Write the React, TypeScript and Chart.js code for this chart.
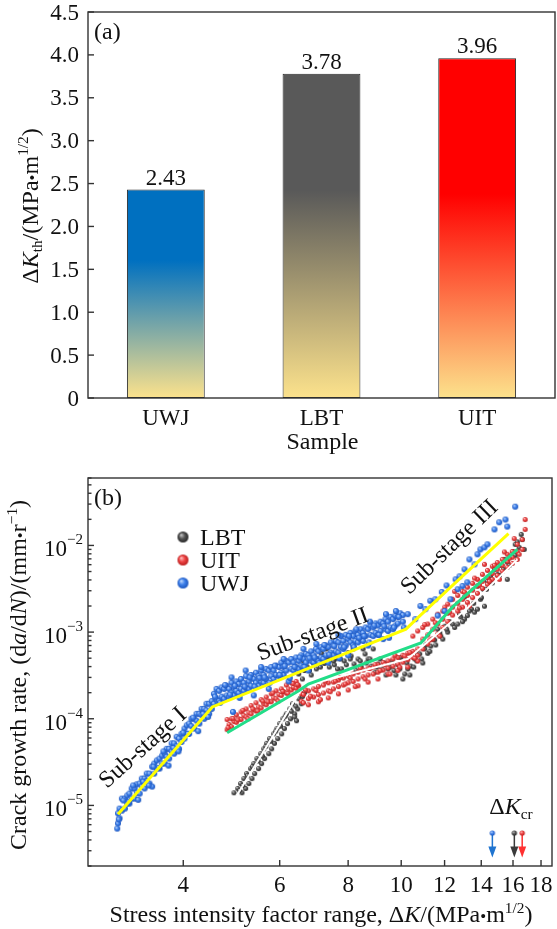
import React, { useEffect, useRef } from "react";
import { Chart, registerables } from "chart.js";

Chart.register(...registerables);

const FONT = "'Liberation Serif', 'Times New Roman', Times, serif";
const TICK_SIZE = 23;
const TITLE_SIZE = 24;
const AXIS_COLOR = "#333333";
const TEXT_COLOR = "#111111";

// ---------------- Panel (a) data ----------------
const SAMPLES = ["UWJ", "LBT", "UIT"];
const DK_TH = [2.43, 3.78, 3.96];
const DK_TH_LABELS = ["2.43", "3.78", "3.96"];
const BAR_TOP_COLORS = ["#0070C0", "#595959", "#FF0000"];
const BAR_SOLID_STOP = [0.34, 0.36, 0.4];
const BAR_BASE_COLOR = "#FCE28C";
const A_Y_TICKS = [0, 0.5, 1, 1.5, 2, 2.5, 3, 3.5, 4, 4.5];
const A_Y_TICK_LABELS = ["0", "0.5", "1.0", "1.5", "2.0", "2.5", "3.0", "3.5", "4.0", "4.5"];

// ---------------- Panel (b) data ----------------
const B_X_TICKS = [4, 6, 8, 10, 12, 14, 16, 18];
const B_X_TICK_LABELS = ["4", "6", "8", "10", "12", "14", "16", "18"];
const B_Y_DECADES = [1e-6, 1e-5, 1e-4, 1e-3, 1e-2];
const B_Y_LABELED = [1e-5, 1e-4, 1e-3, 1e-2];
const B_Y_LABEL_EXP = ["\u22125", "\u22124", "\u22123", "\u22122"];
const B_X_MIN = 2.68;
const B_X_MAX = 18.85;
const B_Y_MIN = 2e-6;
const B_Y_MAX = 0.06;

const UWJ_POINTS: [number, number][] = [
  [3.04, 6.2e-6], [3.04, 8.1e-6], [3.03, 5.4e-6], [3.06, 9.2e-6], [3.06, 7.1e-6],
  [3.09, 1.2e-5], [3.09, 8.7e-6], [3.13, 1.2e-5], [3.13, 9.2e-6], [3.16, 1.3e-5], [3.16, 1.05e-5],
  [3.19, 1.37e-5], [3.19, 1.05e-5], [3.22, 1.57e-5], [3.22, 1.2e-5], [3.26, 1.57e-5], [3.26, 1.2e-5],
  [3.29, 1.75e-5], [3.29, 1.4e-5], [3.33, 1.79e-5], [3.33, 1.37e-5], [3.36, 2.04e-5], [3.36, 1.65e-5],
  [3.4, 2.04e-5], [3.4, 1.57e-5], [3.43, 2.33e-5], [3.43, 1.9e-5], [3.47, 2.33e-5], [3.47, 1.79e-5],
  [3.51, 2.8e-5], [3.51, 1.65e-5], [3.54, 3.04e-5], [3.54, 2.33e-5], [3.58, 3.3e-5], [3.58, 2.66e-5],
  [3.62, 3.47e-5], [3.62, 2.66e-5], [3.66, 3.75e-5], [3.66, 3.04e-5], [3.7, 3.96e-5], [3.7, 3.04e-5],
  [3.73, 4.5e-5], [3.73, 3.65e-5], [3.77, 4.5e-5], [3.77, 3.47e-5], [3.81, 5.2e-5], [3.81, 4.2e-5],
  [3.85, 5.2e-5], [3.85, 3.96e-5], [3.89, 6.2e-5], [3.89, 4.8e-5], [3.93, 5.9e-5], [3.93, 4.5e-5],
  [3.97, 6.7e-5], [3.97, 5.4e-5], [4.02, 7.7e-5], [4.02, 5.9e-5], [4.06, 8.4e-5], [4.06, 6.7e-5],
  [4.1, 8.8e-5], [4.1, 6.7e-5], [4.14, 1.0e-4], [4.14, 8.2e-5], [4.19, 1.0e-4], [4.19, 7.7e-5],
  [4.23, 1.14e-4], [4.23, 9.5e-5], [4.28, 1.14e-4], [4.28, 8.8e-5], [4.32, 1.3e-4], [4.32, 1.1e-4],
  [4.37, 1.3e-4], [4.37, 1.0e-4], [4.41, 1.49e-4], [4.41, 1.25e-4], [4.46, 1.49e-4], [4.46, 1.14e-4],
  [4.51, 1.6e-4], [4.51, 1.3e-4],
  [3.05, 6.9e-6], [3.11, 1.14e-5], [3.18, 1.09e-5], [3.24, 1.7e-5], [3.31, 1.16e-5], [3.38, 1.88e-5],
  [3.46, 1.7e-5], [3.53, 2.8e-5], [3.61, 2.72e-5], [3.68, 4.2e-5], [3.76, 2.88e-5], [3.84, 4.6e-5],
  [3.92, 4.2e-5], [4.0, 6.9e-5], [4.08, 6.7e-5], [4.17, 1.03e-4], [4.26, 7.2e-5], [4.35, 1.14e-4], [4.44, 1.05e-4],
  [4.55, 1.94e-4], [4.55, 1.49e-4], [4.6, 1.7e-4], [4.6, 2.21e-4], [4.65, 2.1e-4], [4.65, 1.6e-4],
  [4.7, 2.3e-4], [4.7, 1.8e-4], [4.75, 2.21e-4], [4.75, 1.7e-4], [4.8, 2.4e-4], [4.8, 1.86e-4],
  [4.85, 2.21e-4], [4.85, 1.8e-4], [4.93, 1.2e-4], [4.9, 2.6e-4], [4.9, 2.0e-4], [4.95, 2.3e-4], [4.95, 1.86e-4],
  [5.0, 2.7e-4], [5.0, 2.1e-4], [5.05, 2.52e-4], [5.05, 1.98e-4], [5.1, 2.88e-4], [5.1, 2.21e-4],
  [5.16, 2.6e-4], [5.16, 2.1e-4], [5.21, 3.1e-4], [5.21, 2.3e-4], [5.27, 2.7e-4], [5.27, 2.21e-4],
  [5.32, 3.2e-4], [5.32, 2.4e-4], [5.38, 2.88e-4], [5.38, 1.86e-4], [5.43, 3.4e-4], [5.43, 2.6e-4],
  [5.49, 3.1e-4], [5.49, 2.4e-4], [5.55, 3.6e-4], [5.55, 2.7e-4], [5.61, 3.2e-4], [5.61, 2.6e-4],
  [5.67, 3.76e-4], [5.67, 2.88e-4], [5.73, 3.6e-4], [5.73, 2.21e-4], [5.79, 3.95e-4], [5.79, 3.1e-4],
  [5.85, 3.6e-4], [5.85, 2.88e-4], [5.91, 4.1e-4], [5.91, 3.2e-4], [5.98, 3.95e-4], [5.98, 3.1e-4],
  [6.04, 4.45e-4], [6.04, 3.4e-4], [6.1, 3.95e-4], [6.1, 3.2e-4], [6.17, 4.65e-4], [6.17, 3.6e-4],
  [6.23, 4.45e-4], [6.23, 2.7e-4], [6.3, 4.9e-4], [6.3, 3.76e-4], [6.36, 4.45e-4], [6.36, 3.6e-4],
  [6.43, 5.1e-4], [6.43, 3.95e-4], [6.5, 4.65e-4], [6.5, 3.76e-4], [6.57, 5.4e-4], [6.57, 4.1e-4],
  [6.63, 4.9e-4], [6.63, 3.95e-4], [6.7, 5.6e-4], [6.7, 4.45e-4], [6.77, 5.4e-4], [6.77, 3.6e-4],
  [6.85, 6.0e-4], [6.85, 4.65e-4], [6.92, 5.4e-4], [6.92, 4.45e-4], [6.99, 6.4e-4], [6.99, 4.9e-4],
  [7.06, 6.0e-4], [7.06, 4.65e-4], [7.14, 6.7e-4], [7.14, 5.1e-4], [7.21, 6.4e-4], [7.21, 4.9e-4],
  [7.29, 7.0e-4], [7.29, 5.4e-4], [7.36, 6.7e-4], [7.36, 4.45e-4], [7.44, 7.6e-4], [7.44, 5.8e-4],
  [7.52, 7.0e-4], [7.52, 5.4e-4], [7.6, 7.9e-4], [7.6, 6.0e-4], [7.68, 7.6e-4], [7.68, 5.8e-4],
  [7.76, 9.0e-4], [7.76, 6.7e-4], [7.84, 7.9e-4], [7.84, 6.4e-4], [7.92, 9.3e-4], [7.92, 7.0e-4],
  [8.0, 8.3e-4], [8.0, 5.4e-4], [8.08, 9.8e-4], [8.08, 7.6e-4], [8.17, 9.0e-4], [8.17, 7.0e-4],
  [8.25, 1.03e-3], [8.25, 7.9e-4], [8.34, 9.3e-4], [8.34, 7.6e-4], [8.43, 1.08e-3], [8.43, 8.3e-4],
  [8.52, 9.8e-4], [8.52, 7.9e-4], [8.61, 1.13e-3], [8.61, 9.0e-4], [8.7, 1.08e-3], [8.7, 7.0e-4],
  [8.79, 1.19e-3], [8.79, 9.3e-4], [8.89, 1.13e-3], [8.89, 9.0e-4], [8.98, 1.26e-3], [8.98, 9.8e-4],
  [9.07, 1.19e-3], [9.07, 9.3e-4], [9.17, 1.32e-3], [9.17, 1.03e-3], [9.27, 1.26e-3], [9.27, 8.3e-4],
  [9.36, 1.41e-3], [9.36, 1.08e-3], [9.46, 1.32e-3], [9.46, 1.03e-3], [9.56, 1.5e-3], [9.56, 1.13e-3],
  [9.66, 1.41e-3], [9.66, 1.08e-3], [9.76, 1.55e-3], [9.76, 1.19e-3], [9.86, 1.5e-3], [9.86, 1.26e-3],
  [9.96, 1.65e-3], [10.07, 1.57e-3], [10.07, 1.32e-3],
  [4.57, 1.8e-4], [4.67, 1.53e-4], [4.77, 2.45e-4], [4.87, 1.9e-4], [4.97, 2.4e-4], [5.07, 1.74e-4],
  [5.18, 2.35e-4], [5.29, 3.0e-4], [5.4, 2.35e-4], [5.51, 2.95e-4], [5.63, 3.0e-4], [5.75, 2.6e-4],
  [5.88, 4.1e-4], [6.0, 3.2e-4], [6.13, 4.05e-4], [6.26, 2.95e-4], [6.39, 3.95e-4], [6.53, 5.1e-4],
  [6.66, 3.95e-4], [6.8, 5.0e-4], [6.95, 5.1e-4], [7.09, 4.4e-4], [7.24, 7.1e-4], [7.39, 5.5e-4],
  [7.55, 6.9e-4], [7.71, 5.0e-4], [7.87, 6.7e-4], [8.03, 9.0e-4], [8.2, 6.7e-4], [8.38, 8.6e-4],
  [8.56, 9.0e-4], [8.74, 7.6e-4], [8.93, 1.19e-3], [9.11, 9.3e-4], [9.31, 1.17e-3], [9.5, 8.6e-4],
  [9.7, 1.13e-3], [9.9, 1.5e-3], [10.11, 1.13e-3],
  [4.9, 3.0e-4], [5.2, 3.6e-4], [5.55, 3.95e-4], [6.1, 4.9e-4], [6.63, 6.4e-4], [7.0, 7.3e-4],
  [7.68, 9.3e-4], [8.28, 1.08e-3], [8.77, 1.32e-3], [9.38, 1.61e-3], [9.78, 1.75e-3],
  [10.28, 1.61e-3], [10.61, 1.41e-3], [10.84, 2.0e-3], [11.07, 1.84e-3], [11.3, 2.3e-3],
  [11.54, 2.39e-3], [11.66, 1.55e-3], [11.86, 2.9e-3], [12.0, 1.75e-3], [12.1, 3.45e-3],
  [12.3, 2.39e-3], [12.57, 4.06e-3], [12.68, 3.12e-3], [12.78, 4.4e-3], [12.94, 3.4e-3],
  [13.05, 5.3e-3], [13.2, 3.75e-3], [13.32, 6.9e-3], [13.61, 6.05e-3], [13.78, 7.9e-3],
  [13.95, 9.0e-3], [14.19, 9.5e-3], [14.37, 1.03e-2], [14.8, 1.53e-2], [15.1, 1.85e-2],
  [15.5, 1.99e-2], [15.62, 1.65e-2], [16.15, 2.8e-2],
];

const UIT_POINTS: [number, number][] = [
  [4.81, 9.8e-5], [4.81, 7.5e-5], [4.85, 8.6e-5], [4.9, 1.0e-4], [4.9, 8.1e-5], [4.95, 9.3e-5],
  [5.0, 1.11e-4], [5.0, 9.1e-5], [5.05, 1.0e-4], [5.1, 1.2e-4], [5.1, 9.8e-5], [5.16, 1.09e-4],
  [5.21, 1.3e-4], [5.21, 1.05e-4], [5.27, 1.17e-4], [5.32, 1.42e-4], [5.32, 1.14e-4], [5.38, 1.27e-4],
  [5.43, 1.53e-4], [5.43, 1.23e-4], [5.49, 1.37e-4], [5.55, 1.66e-4], [5.55, 1.33e-4], [5.61, 1.49e-4],
  [5.67, 1.78e-4], [5.67, 1.45e-4], [5.73, 1.6e-4], [5.79, 1.94e-4], [5.79, 1.57e-4], [5.85, 1.74e-4],
  [5.91, 2.1e-4], [5.91, 1.7e-4], [5.98, 1.9e-4], [6.04, 2.21e-4], [6.04, 1.86e-4], [6.1, 2.05e-4],
  [6.17, 2.45e-4], [6.17, 1.98e-4], [6.23, 2.21e-4], [6.3, 2.6e-4], [6.3, 2.15e-4], [6.36, 2.3e-4],
  [6.43, 2.7e-4], [6.43, 2.25e-4], [6.5, 2.4e-4],
  [4.83, 7.9e-5], [4.93, 1.01e-4], [5.03, 9.7e-5], [5.14, 1.25e-4], [5.25, 1.0e-4], [5.36, 1.3e-4],
  [5.47, 1.23e-4], [5.59, 1.6e-4], [5.71, 1.57e-4], [5.83, 1.98e-4], [5.96, 1.6e-4], [6.08, 2.07e-4],
  [6.21, 1.96e-4], [6.34, 2.55e-4], [6.47, 2.48e-4],
  [6.57, 1.94e-4], [6.57, 1.6e-4], [6.63, 1.9e-4], [6.63, 1.53e-4],
  [6.77, 2.1e-4], [6.77, 1.7e-4], [6.77, 1.45e-4], [6.92, 2.21e-4], [6.92, 1.78e-4],
  [7.06, 2.35e-4], [7.06, 1.9e-4], [7.06, 1.57e-4], [7.21, 2.45e-4], [7.21, 1.98e-4],
  [7.36, 2.6e-4], [7.36, 2.1e-4], [7.36, 1.74e-4], [7.52, 2.65e-4], [7.52, 2.21e-4],
  [7.68, 2.8e-4], [7.68, 2.35e-4], [7.68, 1.94e-4], [7.84, 2.95e-4], [7.84, 2.45e-4],
  [8.0, 3.1e-4], [8.0, 2.6e-4], [8.0, 2.15e-4], [8.17, 3.29e-4], [8.17, 2.7e-4],
  [8.34, 3.45e-4], [8.34, 2.88e-4], [8.34, 2.4e-4], [8.52, 3.65e-4], [8.52, 3.05e-4],
  [8.7, 3.85e-4], [8.7, 3.2e-4], [8.7, 2.65e-4], [8.89, 3.95e-4], [8.89, 3.29e-4],
  [9.07, 4.2e-4], [9.07, 3.45e-4], [9.07, 2.88e-4], [9.27, 4.45e-4], [9.27, 3.65e-4],
  [9.46, 4.65e-4], [9.46, 3.85e-4], [9.46, 3.29e-4], [9.66, 4.9e-4], [9.66, 4.05e-4],
  [9.86, 5.1e-4], [9.86, 4.29e-4], [9.86, 3.6e-4], [10.07, 5.4e-4], [10.07, 4.5e-4],
  [10.28, 5.7e-4], [10.28, 4.8e-4], [10.28, 3.95e-4], [10.5, 6.0e-4], [10.5, 5.1e-4], [10.5, 9.0e-4],
  [10.72, 6.4e-4], [10.72, 5.4e-4], [10.72, 4.65e-4], [10.72, 1.03e-3],
  [6.69, 2.15e-4], [6.83, 1.82e-4], [6.99, 2.12e-4], [7.12, 1.66e-4], [7.27, 2.72e-4], [7.42, 2.05e-4],
  [7.58, 2.72e-4], [7.74, 3.0e-4], [7.9, 2.52e-4], [8.07, 2.95e-4], [8.24, 2.35e-4], [8.42, 3.85e-4],
  [8.59, 2.88e-4], [8.77, 3.8e-4], [8.96, 4.2e-4], [9.15, 3.6e-4], [9.34, 4.2e-4], [9.54, 3.29e-4],
  [9.74, 5.4e-4], [9.94, 3.95e-4], [10.15, 5.3e-4], [10.37, 5.8e-4], [10.59, 5.0e-4],
  [10.95, 1.13e-3], [10.95, 8.3e-4], [10.95, 6.4e-4], [11.18, 1.24e-3], [11.18, 9.3e-4], [11.18, 7.3e-4],
  [11.42, 1.41e-3], [11.42, 1.08e-3], [11.42, 8.3e-4], [11.66, 1.61e-3], [11.66, 1.24e-3], [11.66, 9.5e-4],
  [11.91, 1.75e-3], [11.91, 1.41e-3], [11.91, 1.13e-3], [12.16, 2.1e-3], [12.16, 1.65e-3], [12.16, 1.32e-3],
  [12.41, 2.39e-3], [12.41, 1.94e-3], [12.41, 1.57e-3], [12.68, 2.65e-3], [12.68, 2.15e-3], [12.68, 1.75e-3],
  [12.94, 2.95e-3], [12.94, 2.39e-3], [12.94, 1.94e-3], [13.21, 3.3e-3], [13.21, 2.65e-3], [13.21, 2.2e-3],
  [13.5, 3.65e-3], [13.5, 3.05e-3], [13.5, 2.5e-3], [13.78, 4.06e-3], [13.78, 3.4e-3], [13.78, 2.8e-3],
  [14.07, 4.64e-3], [14.07, 3.85e-3], [14.07, 3.2e-3], [14.37, 5.15e-3], [14.37, 4.3e-3], [14.37, 3.56e-3],
  [14.67, 5.75e-3], [14.67, 4.75e-3], [14.67, 4.06e-3], [14.98, 6.35e-3], [14.98, 5.3e-3], [14.98, 4.5e-3],
  [15.3, 6.9e-3], [15.3, 5.9e-3], [15.3, 5.05e-3], [15.62, 7.9e-3], [15.62, 6.55e-3], [15.62, 5.6e-3],
  [15.95, 8.5e-3], [15.95, 7.3e-3], [15.95, 6.2e-3], [16.29, 1.03e-2], [16.29, 8.5e-3], [16.29, 6.9e-3],
  [16.63, 1.17e-2], [16.63, 9.0e-3], [16.84, 1.99e-2], [16.84, 1.53e-2],
  [11.04, 1.22e-3], [11.28, 8.1e-4], [11.54, 1.28e-3], [11.76, 9.0e-4], [12.01, 1.94e-3], [12.26, 1.7e-3],
  [12.52, 2.95e-3], [12.78, 1.9e-3], [13.05, 2.9e-3], [13.32, 2.0e-3], [13.61, 4.2e-3], [13.9, 3.5e-3],
  [14.19, 6.05e-3], [14.49, 3.85e-3], [14.8, 5.9e-3], [15.11, 4.06e-3], [15.43, 8.4e-3], [15.75, 7.1e-3],
  [16.08, 1.2e-2], [16.42, 7.9e-3],
];

const LBT_POINTS: [number, number][] = [
  [4.95, 1.4e-5], [5.12, 1.4e-5], [5.03, 1.57e-5], [5.2, 1.57e-5], [5.09, 1.79e-5], [5.27, 1.79e-5],
  [5.16, 2.04e-5], [5.34, 2.04e-5], [5.22, 2.33e-5], [5.4, 2.33e-5], [5.31, 2.66e-5], [5.49, 2.66e-5],
  [5.38, 3.04e-5], [5.56, 3.04e-5], [5.45, 3.47e-5], [5.63, 3.47e-5], [5.54, 3.96e-5], [5.73, 3.96e-5],
  [5.61, 4.5e-5], [5.8, 4.5e-5], [5.68, 5.2e-5], [5.87, 5.2e-5], [5.75, 5.9e-5], [5.95, 5.9e-5],
  [5.85, 6.7e-5], [6.05, 6.7e-5], [5.93, 7.7e-5], [6.12, 7.7e-5], [6.0, 8.8e-5], [6.2, 8.8e-5],
  [6.08, 1.0e-4], [6.28, 1.0e-4], [6.17, 1.14e-4], [6.39, 1.14e-4], [6.26, 1.3e-4], [6.47, 1.3e-4],
  [6.33, 1.49e-4], [6.57, 1.49e-4], [6.39, 1.05e-4], [6.44, 9.5e-5], [6.6, 1.8e-4], [6.66, 2.0e-4], [6.5, 1.7e-4],
  [5.07, 1.48e-5], [5.14, 1.7e-5], [5.24, 2.2e-5], [5.35, 2.8e-5], [5.48, 3.25e-5], [5.58, 3.7e-5],
  [5.66, 4.8e-5], [5.78, 5.5e-5], [5.9, 7.2e-5], [6.02, 8.2e-5], [6.14, 1.07e-4], [6.3, 1.22e-4], [6.42, 1.4e-4],
  [6.5, 3.29e-4], [6.6, 2.88e-4], [6.66, 3.6e-4], [6.74, 3.95e-4], [6.85, 3.2e-4], [6.92, 4.35e-4],
  [7.0, 3.76e-4], [7.06, 4.9e-4], [7.15, 5.7e-4], [7.24, 4.35e-4], [7.33, 5.1e-4], [7.45, 5.1e-4],
  [7.55, 4.2e-4], [7.58, 4.9e-4], [7.68, 5.6e-4], [7.78, 3.76e-4], [7.87, 4.65e-4], [8.0, 5.8e-4],
  [8.1, 5.3e-4], [8.2, 4.29e-4], [8.34, 4.9e-4], [8.45, 3.95e-4], [8.59, 5.6e-4], [8.7, 4.9e-4],
  [8.81, 4.05e-4], [8.96, 3.45e-4], [9.07, 4.29e-4], [9.22, 3.76e-4], [9.38, 3.2e-4], [9.54, 3.95e-4],
  [9.7, 3.6e-4], [9.86, 4.2e-4], [9.98, 5.1e-4], [10.15, 3.29e-4], [10.28, 3.76e-4], [10.41, 4.05e-4],
  [10.59, 4.9e-4], [10.72, 5.6e-4], [10.9, 4.9e-4], [11.04, 6.4e-4], [11.18, 5.7e-4], [11.32, 6.9e-4],
  [11.51, 8.1e-4], [11.66, 1.08e-3], [11.81, 9.0e-4], [12.01, 1.17e-3], [12.16, 1.0e-3], [12.41, 1.24e-3],
  [12.68, 1.24e-3], [12.84, 1.5e-3], [13.05, 1.41e-3], [13.21, 1.55e-3], [13.44, 1.84e-3], [13.61, 1.7e-3],
  [13.78, 1.84e-3], [13.95, 2.39e-3], [14.19, 1.99e-3], [13.05, 2.55e-3], [13.78, 3.4e-3], [14.13, 3.12e-3],
  [14.37, 3.85e-3], [14.55, 4.4e-3], [14.8, 5.3e-3], [14.98, 4.64e-3], [15.17, 5.9e-3], [15.43, 6.9e-3],
  [15.62, 6.4e-3], [15.62, 4.06e-3], [15.81, 7.5e-3], [16.01, 8.5e-3], [16.15, 1.03e-2], [16.29, 1.1e-2],
  [16.42, 9.5e-3], [16.63, 1.17e-2], [16.77, 9.0e-3], [16.56, 1.34e-2],
  [6.57, 3.95e-4], [6.63, 4.65e-4], [6.8, 3.6e-4], [6.9, 5.1e-4], [6.99, 4.4e-4], [7.12, 3.95e-4],
  [7.18, 4.9e-4], [7.3, 6.4e-4], [7.39, 3.95e-4], [7.52, 4.65e-4], [7.65, 3.76e-4], [7.74, 4.9e-4],
  [7.84, 6.7e-4], [7.94, 4.2e-4], [8.07, 4.9e-4], [8.17, 6.4e-4], [8.27, 3.6e-4], [8.42, 4.65e-4],
  [8.52, 6.4e-4], [8.63, 4.4e-4], [8.77, 4.9e-4], [8.89, 6.4e-4], [9.03, 3.95e-4], [9.15, 4.9e-4],
  [9.31, 4.4e-4], [9.46, 3.76e-4], [9.62, 4.65e-4], [9.78, 3.2e-4], [9.94, 3.76e-4], [10.07, 2.88e-4],
  [10.24, 4.4e-4], [10.37, 3.2e-4], [10.54, 3.95e-4], [10.68, 4.65e-4], [10.81, 5.6e-4], [10.95, 4.4e-4],
  [11.09, 7.1e-4], [11.28, 6.0e-4], [11.42, 8.3e-4], [11.56, 7.1e-4], [11.76, 9.8e-4], [11.91, 8.3e-4],
  [12.11, 1.08e-3], [12.26, 1.32e-3], [12.52, 1.13e-3], [12.78, 1.61e-3], [12.94, 1.32e-3], [13.32, 1.75e-3],
  [13.56, 2.15e-3], [14.01, 2.5e-3], [14.31, 3.12e-3], [14.67, 3.7e-3], [15.11, 4.5e-3], [15.37, 5.3e-3],
  [15.75, 5.9e-3], [16.15, 7.7e-3],
];

const UWJ_FIT: [number, number][] = [[3.04, 7.9e-6], [4.52, 1.37e-4], [10.2, 1.08e-3], [10.8, 1.53e-3], [12.75, 4.06e-3], [15.7, 1.37e-2]];
const UIT_FIT: [number, number][] = [[4.81, 6.9e-5], [6.5, 2.1e-4], [6.77, 2.52e-4], [10.86, 7.5e-4], [12.4, 1.94e-3], [16.3, 9.0e-3]];
const LBT_FIT: [number, number][] = [[5.01, 1.3e-5], [6.63, 2.39e-4], [10.28, 4.9e-4], [13.2, 1.89e-3], [16.3, 6.9e-3]];

const DKCR_SAMPLES = ["UWJ", "LBT", "UIT"];
const DKCR_VALUES = [14.67, 16.09, 16.63];
const DKCR_ARROW_TOP = 4.8e-6;
const DKCR_ARROW_TIP = 2.5e-6;

const LEGEND_NAMES = ["LBT", "UIT", "UWJ"];

const STAGE_LABELS = ["Sub-stage I", "Sub-stage II", "Sub-stage III"];
const STAGE_ANCHOR_X = [3.38, 6.9, 12.26];
const STAGE_ANCHOR_Y = [4.6e-5, 9.3e-4, 9.5e-3];
const STAGE_ANGLE_DEG = [-42, -20, -44];

// ---------------- styling ----------------
const SPHERE = {
  UWJ: { light: "#c4dcff", base: "#3d80ea", dark: "#1c55bd", arrow: "#1f74d0" },
  UIT: { light: "#ffc4c4", base: "#ef4545", dark: "#b81d1d", arrow: "#ff3030" },
  LBT: { light: "#c8c8c8", base: "#555555", dark: "#262626", arrow: "#3a3a3a" },
} as Record<string, { light: string; base: string; dark: string; arrow: string }>;

type Seg = { t: string; it?: boolean; sup?: boolean; sub?: boolean; k?: number };

const A_Y_TITLE: Seg[] = [
  { t: "\u0394" }, { t: "K", it: true }, { t: "th", sub: true }, { t: "/(MPa" }, { t: "\u2022", k: 0.7 },
  { t: "m" }, { t: "1/2", sup: true }, { t: ")" },
];
const B_Y_TITLE: Seg[] = [
  { t: "Crack growth rate, (d" }, { t: "a", it: true }, { t: "/d" }, { t: "N", it: true }, { t: ")/(mm" },
  { t: "\u2022", k: 0.7 }, { t: "r" }, { t: "\u22121", sup: true }, { t: ")" },
];
const B_X_TITLE: Seg[] = [
  { t: "Stress intensity factor range, \u0394" }, { t: "K", it: true }, { t: "/(MPa" }, { t: "\u2022", k: 0.7 },
  { t: "m" }, { t: "1/2", sup: true }, { t: ")" },
];
const DKCR_TEXT: Seg[] = [{ t: "\u0394" }, { t: "K", it: true }, { t: "cr", sub: true }];

function drawRich(ctx: CanvasRenderingContext2D, segs: Seg[], x: number, y: number, size: number, align: "left" | "center" | "right") {
  const parts = segs.map((s) => {
    const sz = s.sup || s.sub ? size * 0.64 : size * (s.k ?? 1);
    const font = `${s.it ? "italic " : ""}${sz}px ${FONT}`;
    ctx.font = font;
    return { s, font, w: ctx.measureText(s.t).width };
  });
  const total = parts.reduce((a, p) => a + p.w, 0);
  let cx = align === "center" ? x - total / 2 : align === "right" ? x - total : x;
  ctx.textAlign = "left";
  ctx.textBaseline = "alphabetic";
  for (const p of parts) {
    ctx.font = p.font;
    const dy = p.s.sup ? -size * 0.38 : p.s.sub ? size * 0.2 : 0;
    ctx.fillText(p.s.t, cx, y + dy);
    cx += p.w;
  }
  return total;
}

function makeSphere(r: number, light: string, base: string, dark: string) {
  const size = Math.ceil(r * 2) + 2;
  const c = document.createElement("canvas");
  c.width = size;
  c.height = size;
  const g = c.getContext("2d")!;
  const cx = size / 2, cy = size / 2;
  const grad = g.createRadialGradient(cx - r * 0.35, cy - r * 0.4, r * 0.05, cx, cy, r);
  grad.addColorStop(0, light);
  grad.addColorStop(0.5, base);
  grad.addColorStop(1, dark);
  g.fillStyle = grad;
  g.beginPath();
  g.arc(cx, cy, r, 0, Math.PI * 2);
  g.fill();
  return c;
}

const toXY = (pts: [number, number][]) => pts.map(([x, y]) => ({ x, y }));

const panelAPlugin = {
  id: "panelA",
  afterDraw(chart: any) {
    const ctx: CanvasRenderingContext2D = chart.ctx;
    const { left, right, top, bottom } = chart.chartArea;
    const xs = chart.scales.x, ys = chart.scales.y;
    ctx.save();
    ctx.strokeStyle = AXIS_COLOR;
    ctx.lineWidth = 1.4;
    ctx.strokeRect(left, top, right - left, bottom - top);
    ctx.fillStyle = TEXT_COLOR;
    ctx.font = `${TICK_SIZE}px ${FONT}`;
    ctx.textAlign = "right";
    ctx.textBaseline = "alphabetic";
    A_Y_TICKS.forEach((v, i) => {
      const py = ys.getPixelForValue(v);
      ctx.beginPath();
      ctx.moveTo(left, py);
      ctx.lineTo(left + 6, py);
      ctx.stroke();
      ctx.fillText(A_Y_TICK_LABELS[i], left - 9, py + 7.5);
    });
    ctx.textAlign = "center";
    SAMPLES.forEach((s, i) => {
      const px = xs.getPixelForValue(i);
      ctx.fillText(s, px, bottom + 27);
      ctx.fillText(DK_TH_LABELS[i], px, ys.getPixelForValue(DK_TH[i]) - 5);
    });
    ctx.font = `${TITLE_SIZE}px ${FONT}`;
    ctx.fillText("Sample", (left + right) / 2 + 1, bottom + 51);
    ctx.textAlign = "left";
    ctx.fillText("(a)", left + 6, top + 27);
    ctx.save();
    ctx.translate(37.5, (top + bottom) / 2 + 1);
    ctx.rotate(-Math.PI / 2);
    drawRich(ctx, A_Y_TITLE, 0, 0, TITLE_SIZE, "center");
    ctx.restore();
    ctx.restore();
  },
};

function makePanelBPlugin(sprites: Record<string, HTMLCanvasElement>) {
  return {
    id: "panelB",
    afterDraw(chart: any) {
      const ctx: CanvasRenderingContext2D = chart.ctx;
      const { left, right, top, bottom } = chart.chartArea;
      const xs = chart.scales.x, ys = chart.scales.y;
      ctx.save();
      ctx.strokeStyle = AXIS_COLOR;
      ctx.lineWidth = 1.4;
      ctx.strokeRect(left, top, right - left, bottom - top);
      ctx.fillStyle = TEXT_COLOR;
      ctx.font = `${TICK_SIZE}px ${FONT}`;
      ctx.textAlign = "center";
      ctx.textBaseline = "alphabetic";
      B_X_TICKS.forEach((v, i) => {
        const px = xs.getPixelForValue(v);
        ctx.beginPath();
        ctx.moveTo(px, bottom);
        ctx.lineTo(px, bottom - 6);
        ctx.stroke();
        ctx.fillText(B_X_TICK_LABELS[i], px, bottom + 26);
      });
      B_Y_DECADES.forEach((d) => {
        for (let m = 1; m <= 9; m++) {
          const v = d * m;
          if (v < B_Y_MIN * 0.999 || v > B_Y_MAX * 1.001) continue;
          const py = ys.getPixelForValue(v);
          ctx.beginPath();
          ctx.moveTo(left, py);
          ctx.lineTo(left + (m === 1 ? 6 : 3.5), py);
          ctx.stroke();
        }
      });
      B_Y_LABELED.forEach((v, i) => {
        const py = ys.getPixelForValue(v);
        ctx.font = `15px ${FONT}`;
        ctx.textAlign = "left";
        const we = ctx.measureText(B_Y_LABEL_EXP[i]).width;
        const xe = left - 5 - we;
        ctx.fillText(B_Y_LABEL_EXP[i], xe, py - 1);
        ctx.font = `${TICK_SIZE}px ${FONT}`;
        ctx.textAlign = "right";
        ctx.fillText("10", xe, py + 11);
      });
      drawRich(ctx, B_X_TITLE, (left + right) / 2 + 1, bottom + 56, TITLE_SIZE, "center");
      ctx.save();
      ctx.translate(26, (top + bottom) / 2 + 3);
      ctx.rotate(-Math.PI / 2);
      drawRich(ctx, B_Y_TITLE, 0, 0, TITLE_SIZE, "center");
      ctx.restore();
      ctx.font = `${TITLE_SIZE}px ${FONT}`;
      ctx.textAlign = "left";
      ctx.fillText("(b)", left + 6, top + 27);
      LEGEND_NAMES.forEach((name, i) => {
        const cy = top + 59 + i * 23;
        const big = sprites[name + "_big"];
        ctx.drawImage(big, left + 95 - big.width / 2, cy - big.height / 2);
        ctx.fillStyle = TEXT_COLOR;
        ctx.font = `${TITLE_SIZE}px ${FONT}`;
        ctx.textAlign = "left";
        ctx.fillText(name, left + 112, cy + 8);
      });
      STAGE_LABELS.forEach((label, i) => {
        const px = xs.getPixelForValue(STAGE_ANCHOR_X[i]);
        const py = ys.getPixelForValue(STAGE_ANCHOR_Y[i]);
        ctx.save();
        ctx.translate(px, py);
        ctx.rotate((STAGE_ANGLE_DEG[i] * Math.PI) / 180);
        ctx.font = `${TITLE_SIZE}px ${FONT}`;
        ctx.textAlign = "center";
        ctx.textBaseline = "middle";
        ctx.fillStyle = TEXT_COLOR;
        ctx.fillText(label, 0, 0);
        ctx.restore();
      });
      const yTop = ys.getPixelForValue(DKCR_ARROW_TOP);
      const yTip = ys.getPixelForValue(DKCR_ARROW_TIP);
      DKCR_SAMPLES.forEach((name, i) => {
        const px = xs.getPixelForValue(DKCR_VALUES[i]);
        const col = SPHERE[name].arrow;
        ctx.strokeStyle = col;
        ctx.fillStyle = col;
        ctx.lineWidth = 1.5;
        ctx.beginPath();
        ctx.moveTo(px, yTop);
        ctx.lineTo(px, yTip - 9);
        ctx.stroke();
        ctx.beginPath();
        ctx.moveTo(px - 4, yTip - 11);
        ctx.lineTo(px + 4, yTip - 11);
        ctx.lineTo(px, yTip);
        ctx.closePath();
        ctx.fill();
        const dot = sprites[name + "_dot"];
        ctx.drawImage(dot, px - dot.width / 2, yTop - dot.height / 2);
      });
      ctx.fillStyle = TEXT_COLOR;
      const xBlue = xs.getPixelForValue(DKCR_VALUES[0]);
      drawRich(ctx, DKCR_TEXT, xBlue - 3, yTop - 19, TITLE_SIZE, "left");
      ctx.restore();
    },
  };
}

export default function App() {
  const refA = useRef<HTMLCanvasElement>(null);
  const refB = useRef<HTMLCanvasElement>(null);

  useEffect(() => {
    const sprites: Record<string, HTMLCanvasElement> = {};
    for (const name of ["UWJ", "UIT", "LBT"]) {
      const s = SPHERE[name];
      sprites[name] = makeSphere(name === "UWJ" ? 3 : 2.5, s.light, s.base, s.dark);
      sprites[name + "_big"] = makeSphere(5.5, s.light, s.base, s.dark);
      sprites[name + "_dot"] = makeSphere(2.6, s.light, s.base, s.dark);
    }

    const chartA = new Chart(refA.current!, {
      type: "bar",
      data: {
        labels: SAMPLES,
        datasets: [
          {
            data: DK_TH,
            backgroundColor: (c: any) => {
              const i = c.dataIndex ?? 0;
              const chart = c.chart;
              const ys = chart.scales?.y;
              if (!ys) return BAR_TOP_COLORS[i];
              const yTop = ys.getPixelForValue(DK_TH[i]);
              const yBot = ys.getPixelForValue(0);
              if (!isFinite(yTop) || !isFinite(yBot) || yBot <= yTop) return BAR_TOP_COLORS[i];
              const g = chart.ctx.createLinearGradient(0, yTop, 0, yBot);
              g.addColorStop(0, BAR_TOP_COLORS[i]);
              g.addColorStop(BAR_SOLID_STOP[i], BAR_TOP_COLORS[i]);
              g.addColorStop(1, BAR_BASE_COLOR);
              return g;
            },
            borderColor: "#2a2a2a",
            borderWidth: 1,
            borderSkipped: false,
            barPercentage: 0.5,
            categoryPercentage: 1,
          } as any,
        ],
      },
      options: {
        responsive: false,
        animation: false,
        devicePixelRatio: 1,
        layout: { padding: { left: 88, right: 2, top: 12, bottom: 67 } },
        plugins: { legend: { display: false }, tooltip: { enabled: false } },
        scales: {
          x: {
            grid: { display: false },
            border: { display: false },
            ticks: { display: false },
            afterFit: (s: any) => { s.height = 0; },
          },
          y: {
            min: 0,
            max: 4.5,
            grid: { display: false },
            border: { display: false },
            ticks: { display: false },
            afterFit: (s: any) => { s.width = 0; },
          },
        },
      } as any,
      plugins: [panelAPlugin],
    });

    const chartB = new Chart(refB.current!, {
      type: "scatter",
      data: {
        datasets: [
          { label: "UWJ fit", data: toXY(UWJ_FIT), showLine: true, borderColor: "#FFFF00", borderWidth: 3, pointRadius: 0, order: 0 },
          { label: "UIT fit", data: toXY(UIT_FIT), showLine: true, borderColor: "#22DD88", borderWidth: 3, pointRadius: 0, order: 0 },
          { label: "LBT fit", data: toXY(LBT_FIT), showLine: true, borderColor: "#FFFFFF", borderWidth: 2, pointRadius: 0, order: 0 },
          { label: "UWJ", data: toXY(UWJ_POINTS), pointStyle: sprites.UWJ, pointRadius: 3, order: 1 },
          { label: "UIT", data: toXY(UIT_POINTS), pointStyle: sprites.UIT, pointRadius: 3, order: 2 },
          { label: "LBT", data: toXY(LBT_POINTS), pointStyle: sprites.LBT, pointRadius: 3, order: 3 },
        ] as any,
      },
      options: {
        responsive: false,
        animation: false,
        devicePixelRatio: 1,
        layout: { padding: { left: 88, right: 2, top: 13, bottom: 63 } },
        plugins: { legend: { display: false }, tooltip: { enabled: false } },
        scales: {
          x: {
            type: "logarithmic",
            min: B_X_MIN,
            max: B_X_MAX,
            grid: { display: false },
            border: { display: false },
            ticks: { display: false },
            afterFit: (s: any) => { s.height = 0; },
          },
          y: {
            type: "logarithmic",
            min: B_Y_MIN,
            max: B_Y_MAX,
            grid: { display: false },
            border: { display: false },
            ticks: { display: false },
            afterFit: (s: any) => { s.width = 0; },
          },
        },
      } as any,
      plugins: [makePanelBPlugin(sprites)],
    });

    return () => {
      chartA.destroy();
      chartB.destroy();
    };
  }, []);

  return (
    <div style={{ position: "absolute", left: 0, top: 0, width: 557, height: 929, background: "#ffffff" }}>
      <canvas ref={refA} width={557} height={465} style={{ position: "absolute", left: 0, top: 0, width: 557, height: 465 }} />
      <canvas ref={refB} width={557} height={464} style={{ position: "absolute", left: 0, top: 465, width: 557, height: 464 }} />
    </div>
  );
}
